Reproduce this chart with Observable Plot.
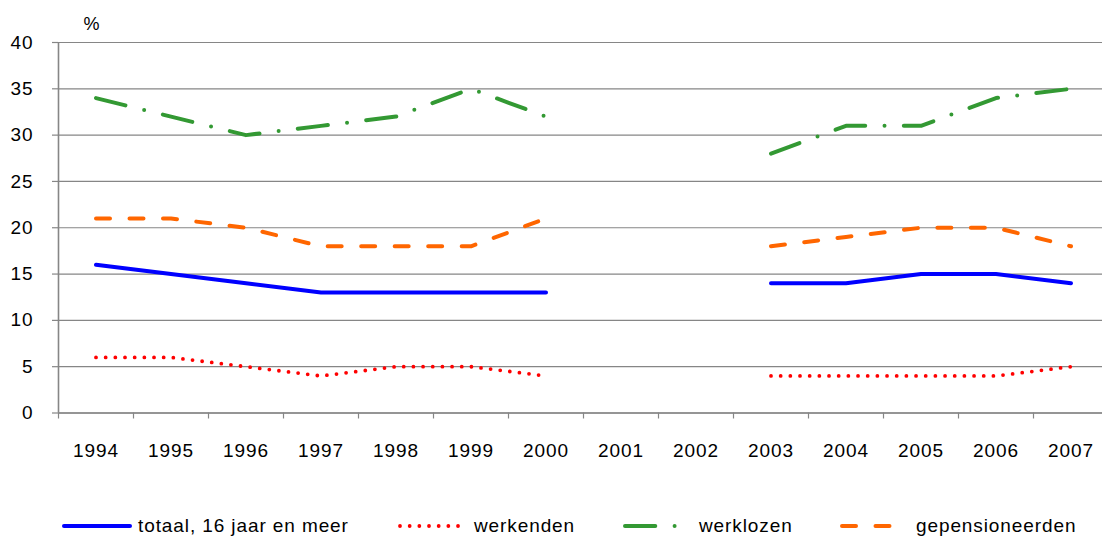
<!DOCTYPE html>
<html><head><meta charset="utf-8">
<script src="https://cdn.jsdelivr.net/npm/d3@7"></script>
<script src="https://cdn.jsdelivr.net/npm/@observablehq/plot@0.6"></script>
<style>
body{margin:0;background:#fff;font-family:"Liberation Sans",Arial,sans-serif;}
#chart{width:1102px;height:536px;position:relative;overflow:hidden;}
</style></head><body><div id="chart"></div>
<script>
const years = [1994,1995,1996,1997,1998,1999,2000,2001,2002,2003,2004,2005,2006,2007];
const totaal          = [16,15,14,13,13,13,13,null,null,14,14,15,15,14];
const werkenden       = [6,6,5,4,5,5,4,null,null,4,4,4,4,5];
const werklozen       = [34,32,30,31,32,35,32,null,null,28,31,31,34,35];
const gepensioneerden = [21,21,20,18,18,18,21,null,null,18,19,20,20,18];
const yTicks = [0,5,10,15,20,25,30,35,40];
const seriesNames  = ["totaal, 16 jaar en meer","werkenden","werklozen","gepensioneerden"];
const seriesValues = [totaal, werkenden, werklozen, gepensioneerden];
const seriesColors = ["#0000ff","#ff0000","#339933","#ff6600"];
const seriesDash   = [undefined,"0 9.67","30.3 19.3 0 19.3","14 19.5"];
const seriesWidth  = [4,3.8,4,4];
const unitLabel = "%";

const boundaries = years.map(y => y - 0.5).concat([years[years.length-1] + 0.5]);
const grey = "#868686";

const plot = Plot.plot({
  width: 1102, height: 470,
  marginTop: 42, marginBottom: 57.5, marginLeft: 58, marginRight: 0,
  style: {fontFamily: "'Liberation Sans', Arial, sans-serif", fontSize: "19px", letterSpacing: "0.9px", color: "#000", background: "#fff", overflow: "hidden"},
  x: {domain: [boundaries[0], boundaries[boundaries.length-1]], range: [58, 1108]},
  y: {domain: [0, 40]},
  marks: [
    Plot.gridY(yTicks, {stroke: grey, strokeOpacity: 1, strokeWidth: 1.2}),
    Plot.axisY(yTicks, {tickSize: 6, tickPadding: 19, stroke: grey, strokeWidth: 1.2, label: null, tickFormat: d => String(d)}),
    Plot.ruleX([boundaries[0]], {stroke: grey, strokeWidth: 1.6}),
    Plot.ruleY([0], {stroke: grey, strokeWidth: 1.6}),
    Plot.axisX(boundaries, {tickSize: 6, stroke: grey, strokeWidth: 1.2, tickFormat: () => "", label: null}),
    Plot.axisX(years, {tickSize: 0, tickPadding: 30, tickFormat: d => String(d), label: null}),
    ...seriesValues.map((vals, i) => Plot.line(
      years.map((yr, j) => ({year: yr, value: vals[j]})),
      {x: "year", y: "value", stroke: seriesColors[i], strokeWidth: seriesWidth[i],
       strokeDasharray: seriesDash[i], strokeLinecap: "round", strokeLinejoin: "round"})),
    Plot.text([unitLabel], {frameAnchor: "top-left", lineAnchor: "middle", dx: 25, dy: -18, text: d => d, textAnchor: "start", fontSize: 18})
  ]
});
const chart = document.getElementById("chart");
chart.appendChild(plot);

// legend
const legendX = [62, 398, 623, 840];
const lg = d3.select(chart).append("svg")
  .attr("width", 1102).attr("height", 66)
  .style("display", "block")
  .style("font-family", "'Liberation Sans', Arial, sans-serif")
  .style("font-size", "19px").style("letter-spacing", "0.9px");
seriesNames.forEach((name, i) => {
  const g = lg.append("g").attr("transform", `translate(${legendX[i]},0)`);
  g.append("path")
    .attr("d", "M2,56H68")
    .attr("stroke", seriesColors[i])
    .attr("stroke-width", seriesWidth[i])
    .attr("stroke-dasharray", seriesDash[i] || null)
    .attr("stroke-linecap", "round")
    .attr("fill", "none");
  g.append("text").attr("x", 76).attr("y", 62).attr("fill", "#000").text(name);
});
</script></body></html>
